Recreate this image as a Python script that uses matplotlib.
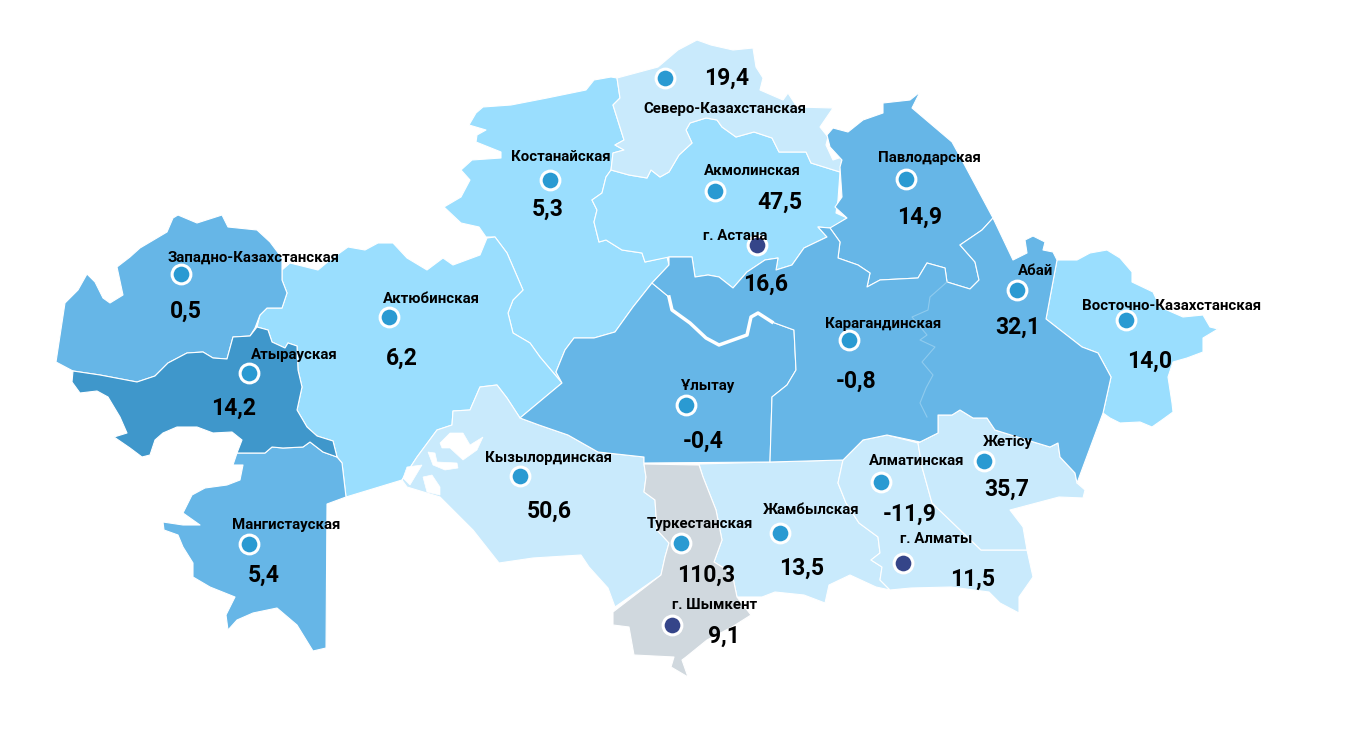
import matplotlib
matplotlib.use("Agg")
import matplotlib.pyplot as plt
from matplotlib.patches import Polygon

plt.rcParams["font.family"] = ["Roboto", "DejaVu Sans"]

# values per region
regions = ["Северо-Казахстанская", "Костанайская", "Акмолинская", "г. Астана", "Павлодарская",
           "Западно-Казахстанская", "Актюбинская", "Атырауская", "Мангистауская", "Абай",
           "Восточно-Казахстанская", "Карагандинская", "Ұлытау", "Кызылординская", "Туркестанская",
           "г. Шымкент", "Жамбылская", "Алматинская", "Жетісу", "г. Алматы"]
values = [19.4, 5.3, 47.5, 16.6, 14.9, 0.5, 6.2, 14.2, 5.4, 32.1,
          14.0, -0.8, -0.4, 50.6, 110.3, 9.1, 13.5, -11.9, 35.7, 11.5]
cities = ["г. Астана", "г. Шымкент", "г. Алматы"]

# pixel positions: dot, name label, value label
dots = [(665, 78), (550, 180), (715, 191), (757, 245), (906, 179), (181, 274), (389, 317), (249, 373),
        (249, 544), (1017, 290), (1126, 320), (849, 340), (686, 405), (520, 476), (681, 543), (672, 625),
        (780, 533), (881, 482), (984, 461), (903, 563)]
name_pos = [(725, 109), (561, 157), (752, 171), (735, 236), (929, 158), (254, 258), (431, 299), (294, 355),
            (286, 525), (1036, 271), (1172, 306), (883, 324), (708, 386), (549, 458), (700, 524), (715, 605),
            (811, 510), (917, 461), (1008, 442), (936, 539)]
value_pos = [(727, 78), (548, 209), (780, 202), (766, 284), (920, 217), (186, 311), (402, 358), (234, 408),
             (264, 575), (1018, 327), (1150, 361), (856, 381), (703, 441), (549, 511), (706, 575), (724, 636),
             (802, 568), (910, 514), (1007, 489), (973, 579)]

LIGHTEST = "#c9eafc"
LIGHT = "#9adefe"
MID = "#66b6e7"
DARK = "#3f97cb"
GREY = "#d0d8de"

# region outlines
west = [(56, 362), (65, 303), (78, 290), (87, 274), (95, 282), (103, 298), (110, 303), (123, 295), (117, 267),
        (130, 257), (140, 248), (167, 232), (173, 218), (178, 215), (197, 223), (222, 215), (228, 227), (257, 230),
        (270, 242), (282, 258), (282, 280), (287, 293), (282, 308), (267, 308), (260, 315), (255, 328), (250, 336),
        (233, 337), (227, 359), (213, 358), (203, 352), (187, 353), (168, 363), (155, 376), (137, 382), (100, 375),
        (73, 371)]
atyrau = [(73, 371), (100, 375), (137, 382), (155, 376), (168, 363), (187, 353), (203, 352), (213, 358), (227, 359),
          (233, 337), (250, 336), (257, 327), (268, 330), (272, 342), (285, 348), (288, 343), (297, 346), (298, 370),
          (302, 387), (297, 410), (307, 427), (317, 436), (333, 441), (337, 457), (323, 452), (310, 442), (303, 447),
          (283, 448), (272, 447), (265, 453), (237, 453), (242, 440), (232, 432), (213, 433), (197, 427), (177, 427),
          (163, 433), (155, 440), (150, 455), (142, 457), (130, 448), (114, 437), (127, 433), (120, 417), (108, 397),
          (97, 391), (80, 393), (72, 382)]
mangystau = [(237, 453), (265, 453), (272, 447), (283, 448), (303, 447), (310, 442), (323, 452), (337, 457), (342, 463),
             (346, 497), (327, 504), (326, 648), (313, 651), (297, 625), (277, 608), (253, 613), (237, 620), (228, 630),
             (226, 615), (235, 597), (210, 587), (193, 577), (193, 563), (183, 547), (178, 535), (164, 530), (163, 522),
             (183, 525), (200, 525), (183, 513), (192, 495), (205, 488), (227, 485), (240, 480), (243, 465), (233, 465)]
aktobe = [(257, 327), (260, 315), (267, 308), (282, 308), (287, 293), (282, 280), (282, 270), (290, 263), (318, 270),
          (330, 260), (348, 247), (365, 250), (378, 243), (393, 243), (407, 258), (427, 270), (443, 258), (453, 265),
          (480, 255), (487, 238), (495, 237), (507, 253), (523, 290), (513, 300), (508, 313), (513, 333), (530, 343),
          (540, 357), (562, 383), (520, 418), (507, 398), (497, 385), (480, 387), (470, 410), (453, 411), (452, 425),
          (437, 430), (417, 457), (402, 480), (346, 497), (342, 463), (337, 457), (333, 441), (317, 436), (307, 427),
          (297, 410), (302, 387), (298, 370), (297, 346), (288, 343), (285, 348), (272, 342), (268, 330)]
kostanay = [(617, 78), (620, 98), (613, 105), (624, 140), (615, 145), (624, 150), (613, 153), (611, 170), (606, 177),
            (602, 193), (592, 200), (597, 210), (594, 222), (599, 242), (606, 240), (622, 250), (642, 253), (645, 262),
            (667, 257), (669, 265), (652, 283), (633, 307), (615, 332), (594, 338), (574, 338), (565, 350), (556, 372),
            (562, 383), (540, 357), (530, 343), (513, 333), (508, 313), (513, 300), (523, 290), (507, 253), (495, 237),
            (486, 237), (479, 227), (461, 223), (444, 207), (461, 197), (470, 180), (461, 170), (472, 160), (501, 158),
            (501, 152), (476, 142), (477, 135), (486, 130), (469, 125), (476, 113), (483, 107), (511, 105), (547, 98),
            (586, 90), (594, 80), (611, 77)]
north = [(617, 78), (658, 67), (678, 50), (697, 40), (711, 45), (733, 50), (753, 48), (756, 67), (763, 78), (760, 90),
         (783, 100), (788, 93), (797, 107), (833, 108), (820, 127), (828, 137), (826, 145), (833, 160), (842, 157),
         (840, 172), (811, 163), (806, 152), (779, 152), (772, 138), (754, 132), (736, 137), (722, 127), (717, 120),
         (706, 118), (690, 123), (686, 130), (692, 143), (679, 155), (669, 172), (660, 177), (651, 170), (647, 178),
         (629, 175), (611, 170), (613, 153), (624, 150), (615, 145), (624, 140), (613, 105), (620, 98)]
akmola = [(611, 170), (629, 175), (647, 178), (651, 170), (660, 177), (669, 172), (679, 155), (692, 143), (686, 130),
          (690, 123), (706, 118), (717, 120), (722, 127), (736, 137), (754, 132), (772, 138), (779, 152), (806, 152),
          (811, 163), (840, 172), (838, 200), (836, 213), (847, 218), (831, 228), (818, 227), (827, 237), (804, 248),
          (792, 265), (776, 270), (778, 258), (765, 260), (747, 272), (733, 288), (719, 277), (708, 275), (695, 277),
          (692, 257), (669, 257), (645, 262), (642, 253), (622, 250), (606, 240), (599, 242), (594, 222), (597, 210),
          (592, 200), (602, 193), (606, 177)]
pavlodar = [(827, 135), (833, 128), (848, 132), (863, 120), (883, 113), (883, 103), (910, 100), (920, 92), (912, 108),
            (952, 142), (963, 162), (993, 218), (982, 230), (960, 245), (975, 262), (979, 280), (970, 289), (947, 282),
            (945, 268), (927, 263), (918, 278), (880, 280), (867, 287), (870, 273), (858, 265), (838, 258), (840, 242),
            (830, 228), (847, 218), (835, 207), (842, 197), (840, 167), (842, 160), (830, 147)]
ulytau = [(520, 418), (562, 383), (556, 372), (565, 350), (574, 338), (594, 338), (615, 332), (633, 307), (652, 283),
          (669, 297), (672, 310), (690, 323), (706, 338), (719, 345), (747, 335), (751, 317), (758, 313), (772, 322),
          (794, 330), (796, 370), (787, 385), (772, 397), (770, 462), (644, 463), (644, 457), (598, 452), (568, 435),
          (539, 425)]
# Karaganda and Abai share one fill, the border between them is only a faint line
karaganda_abai = [(652, 283), (669, 265), (669, 257), (692, 257), (695, 277), (708, 275), (719, 277), (733, 288),
                  (747, 272), (765, 260), (778, 258), (776, 270), (792, 265), (804, 248), (827, 237), (818, 227),
                  (830, 228), (840, 242), (838, 258), (858, 265), (870, 273), (867, 287), (880, 280), (918, 278),
                  (927, 263), (945, 268), (947, 282), (970, 289), (979, 280), (975, 262), (960, 245), (982, 230),
                  (993, 218), (1013, 260), (1027, 253), (1025, 240), (1033, 236), (1045, 242), (1043, 250), (1053, 252),
                  (1057, 260), (1046, 319), (1082, 347), (1098, 353), (1111, 377), (1103, 413), (1077, 483), (1075, 473),
                  (1060, 457), (1058, 443), (1050, 447), (1027, 440), (995, 430), (987, 418), (973, 418), (960, 410),
                  (952, 415), (938, 415), (938, 433), (920, 442), (887, 435), (863, 440), (843, 460), (770, 462),
                  (772, 397), (787, 385), (796, 370), (794, 330), (772, 322), (758, 313), (751, 317), (747, 335),
                  (719, 345), (706, 338), (690, 323), (672, 310), (669, 297)]
east = [(1057, 260), (1077, 260), (1090, 253), (1107, 250), (1120, 258), (1132, 272), (1132, 282), (1153, 292),
        (1160, 307), (1183, 317), (1203, 315), (1210, 327), (1218, 329), (1203, 338), (1203, 352), (1187, 358),
        (1173, 362), (1168, 377), (1172, 403), (1173, 412), (1162, 420), (1152, 427), (1140, 422), (1120, 423),
        (1110, 418), (1103, 413), (1111, 377), (1098, 353), (1082, 347), (1046, 319)]
zhetisu = [(938, 415), (952, 415), (960, 410), (973, 418), (987, 418), (995, 430), (1027, 440), (1050, 447), (1058, 443),
           (1060, 457), (1075, 473), (1077, 483), (1085, 490), (1083, 498), (1059, 497), (1010, 510), (1023, 527),
           (1027, 550), (981, 550), (932, 503), (922, 467), (918, 443), (920, 442), (938, 433)]
almaty = [(918, 443), (887, 435), (863, 440), (843, 460), (838, 483), (846, 503), (859, 523), (878, 537), (880, 553),
          (871, 560), (882, 567), (880, 580), (890, 590), (911, 588), (951, 587), (989, 592), (1000, 603), (1019, 613),
          (1019, 597), (1033, 577), (1027, 550), (981, 550), (932, 503), (922, 467)]
zhambyl = [(699, 464), (843, 460), (838, 483), (846, 503), (859, 523), (878, 537), (880, 553), (871, 560), (882, 567),
           (880, 580), (890, 590), (876, 587), (850, 575), (829, 585), (825, 603), (804, 595), (775, 592), (762, 597),
           (737, 597), (732, 573), (714, 562), (722, 540), (716, 510), (703, 477)]
turkestan = [(644, 464), (699, 465), (703, 477), (716, 510), (722, 540), (714, 562), (732, 573), (737, 597), (751, 615),
             (732, 627), (707, 640), (686, 657), (682, 660), (688, 677), (671, 667), (674, 657), (634, 655), (629, 627),
             (613, 625), (613, 612), (661, 575), (665, 557), (669, 543), (657, 530), (655, 500), (644, 492), (646, 477)]
kyzylorda = [(520, 418), (507, 398), (497, 385), (480, 387), (470, 410), (453, 411), (452, 425), (437, 430), (417, 457),
             (402, 480), (407, 487), (440, 497), (473, 530), (499, 563), (533, 558), (581, 555), (589, 567), (608, 588),
             (615, 607), (661, 575), (665, 557), (669, 543), (657, 530), (655, 500), (644, 492), (646, 477), (644, 464),
             (644, 457), (598, 452), (568, 435), (539, 425)]

shapes = [(kostanay, LIGHT), (aktobe, LIGHT), (akmola, LIGHT), (east, LIGHT), (north, LIGHTEST), (kyzylorda, LIGHTEST),
          (zhambyl, LIGHTEST), (almaty, LIGHTEST), (zhetisu, LIGHTEST), (turkestan, GREY), (west, MID), (mangystau, MID),
          (pavlodar, MID), (ulytau, MID), (karaganda_abai, MID), (atyrau, DARK)]

# Aral sea bits
aral = [[(440, 443), (450, 433), (463, 433), (470, 445), (483, 437), (477, 450), (463, 460), (450, 448), (442, 448)],
        [(428, 452), (435, 453), (437, 462), (457, 463), (458, 468), (445, 470), (433, 465)],
        [(407, 467), (422, 465), (410, 485), (403, 478)],
        [(423, 477), (432, 475), (440, 487), (440, 495), (427, 492)]]

# faint border between Karaganda and Abai
faint = [(947, 282), (930, 297), (928, 310), (912, 317), (927, 335), (920, 340), (935, 347), (922, 362), (933, 375),
         (926, 388), (920, 403), (927, 417)]
river = [(669, 297), (672, 310), (690, 323), (706, 338), (719, 345), (747, 335), (751, 317), (758, 313), (772, 322)]

fig = plt.figure(figsize=(13.66, 7.32), dpi=100)
ax = fig.add_axes([0, 0, 1, 1])
ax.set_xlim(0, 1366)
ax.set_ylim(732, 0)
ax.axis("off")

for pts, col in shapes:
    ax.add_patch(Polygon(pts, closed=True, facecolor=col, edgecolor="white", linewidth=0.8, joinstyle="round", zorder=1))
for pts in aral:
    ax.add_patch(Polygon(pts, closed=True, facecolor="white", edgecolor="white", linewidth=0.5, zorder=2))

ax.plot(*zip(*faint), color="#8fcbee", linewidth=0.8, zorder=2)
ax.plot(*zip(*river), color="white", linewidth=2.5, zorder=2, solid_joinstyle="round")

for name, val, dot, np_, vp in zip(regions, values, dots, name_pos, value_pos):
    dot_col = "#354589" if name in cities else "#2a9ad2"
    ax.plot(dot[0], dot[1], "o", markersize=13.5, markerfacecolor=dot_col, markeredgecolor="white",
            markeredgewidth=2.2, zorder=3)
    ax.text(np_[0], np_[1], name, ha="center", va="center", fontsize=10.85, fontweight="bold", color="black", zorder=4)
    ax.text(vp[0], vp[1], f"{val:.1f}".replace(".", ","), ha="center", va="center", fontsize=16.5,
            fontweight="bold", color="black", zorder=4)

fig.savefig("out.png", dpi=100, facecolor="white")
